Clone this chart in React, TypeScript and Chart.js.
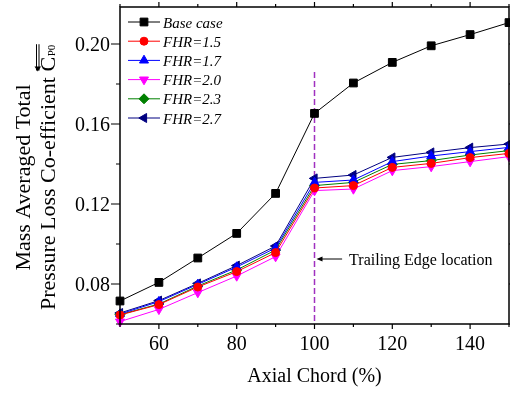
import React, { useEffect, useRef } from "react";
import { Chart, registerables } from "chart.js";
import { drawPoint } from "chart.js/helpers";

Chart.register(...registerables);

// ---------- data ----------
const axialChord = [50, 60, 70, 80, 90, 100, 110, 120, 130, 140, 150];
const baseCase = [0.0715, 0.0808, 0.093, 0.1053, 0.1253, 0.1653, 0.1805, 0.1908, 0.1991, 0.2047, 0.2107];
const fhr15 = [0.0645, 0.0697, 0.0785, 0.0862, 0.0957, 0.128, 0.1292, 0.1383, 0.1403, 0.1432, 0.1453];
const fhr17 = [0.065, 0.0712, 0.0798, 0.0885, 0.098, 0.1308, 0.132, 0.1412, 0.144, 0.1462, 0.1483];
const fhr20 = [0.0612, 0.0673, 0.0757, 0.084, 0.0937, 0.1267, 0.1275, 0.1367, 0.1387, 0.1412, 0.1437];
const fhr23 = [0.0647, 0.07, 0.079, 0.087, 0.097, 0.1292, 0.1308, 0.1398, 0.1417, 0.1445, 0.1467];
const fhr27 = [0.0655, 0.0717, 0.0803, 0.0892, 0.099, 0.1328, 0.1345, 0.1433, 0.1458, 0.1482, 0.15];

const seriesNames = ["Base case", "FHR=1.5", "FHR=1.7", "FHR=2.0", "FHR=2.3", "FHR=2.7"];

const xTickValues = [50, 60, 70, 80, 90, 100, 110, 120, 130, 140, 150];
const xLabelValues = [60, 80, 100, 120, 140];
const yTickValues = [0.06, 0.08, 0.1, 0.12, 0.14, 0.16, 0.18, 0.2];
const yLabelValues = [0.08, 0.12, 0.16, 0.2];

const xTitle = "Axial Chord (%)";
const yTitleLine1 = "Mass Averaged Total";
const yTitleLine2 = "Pressure Loss Co-efficient C";
const yTitleSub = "P0";

const trailingEdgeX = 100;
const trailingEdgeTop = 0.186;
const annotationText = "Trailing Edge location";
const annotationY = 0.0925;
const annotationArrowFromX = 107.1;
const annotationTextX = 108.9;

// ---------- styles ----------
const SERIF = "'Liberation Serif', 'Times New Roman', serif";
const styles = [
  { color: "#000000", pointStyle: "rect", radius: 5.5, rotation: 0 },
  { color: "#ff0000", pointStyle: "circle", radius: 4, rotation: 0 },
  { color: "#0000ff", pointStyle: "triangle", radius: 5.2, rotation: 0 },
  { color: "#ff00ff", pointStyle: "triangle", radius: 5.2, rotation: 180 },
  { color: "#008000", pointStyle: "rectRot", radius: 5, rotation: 0 },
  { color: "#000080", pointStyle: "triangle", radius: 5.2, rotation: -90 },
];
const seriesData = [baseCase, fhr15, fhr17, fhr20, fhr23, fhr27];

const decorPlugin = {
  id: "decor",
  beforeDatasetsDraw(chart: any) {
    const { ctx, scales } = chart;
    const x = scales.x.getPixelForValue(trailingEdgeX);
    ctx.save();
    ctx.strokeStyle = "#a030c0";
    ctx.lineWidth = 1.5;
    ctx.setLineDash([6, 3]);
    ctx.beginPath();
    ctx.moveTo(x, scales.y.getPixelForValue(trailingEdgeTop));
    ctx.lineTo(x, chart.chartArea.bottom);
    ctx.stroke();
    ctx.restore();
  },
  afterDraw(chart: any) {
    const { ctx, scales, chartArea } = chart;
    const { left, right, top, bottom } = chartArea;
    const xs = scales.x;
    const ys = scales.y;
    ctx.save();
    ctx.strokeStyle = "#000";
    ctx.fillStyle = "#000";
    ctx.lineWidth = 1.5;
    ctx.strokeRect(left, top, right - left, bottom - top);

    // x ticks (bottom & top)
    ctx.lineWidth = 1.2;
    xTickValues.forEach((v) => {
      const px = xs.getPixelForValue(v);
      const major = xLabelValues.includes(v);
      const len = major ? 5 : 3;
      ctx.beginPath();
      ctx.moveTo(px, bottom);
      ctx.lineTo(px, bottom + len);
      ctx.moveTo(px, top);
      ctx.lineTo(px, top - len);
      ctx.stroke();
    });
    yTickValues.forEach((v) => {
      const py = ys.getPixelForValue(v);
      const major = yLabelValues.some((l) => Math.abs(l - v) < 1e-9);
      const len = major ? 9 : 4;
      ctx.beginPath();
      ctx.moveTo(left, py);
      ctx.lineTo(left - len, py);
      ctx.moveTo(right, py);
      ctx.lineTo(right + len, py);
      ctx.stroke();
    });

    // tick labels
    ctx.font = `20px ${SERIF}`;
    ctx.textBaseline = "alphabetic";
    ctx.textAlign = "center";
    xLabelValues.forEach((v) => {
      ctx.fillText(String(v), xs.getPixelForValue(v), 349.5);
    });
    ctx.textAlign = "right";
    yLabelValues.forEach((v) => {
      ctx.fillText(v.toFixed(2), 110, ys.getPixelForValue(v) + 6.5);
    });

    // x title
    ctx.textAlign = "center";
    ctx.fillText(xTitle, (left + right) / 2, 382);

    // y title
    ctx.font = `22px ${SERIF}`;
    ctx.save();
    ctx.translate(30, 177.5);
    ctx.rotate(-Math.PI / 2);
    ctx.textAlign = "center";
    ctx.fillText(yTitleLine1, 0, 0);
    ctx.restore();

    ctx.save();
    ctx.translate(54.5, 310);
    ctx.rotate(-Math.PI / 2);
    ctx.textAlign = "left";
    ctx.fillText(yTitleLine2, 0, 0);
    const w = ctx.measureText(yTitleLine2).width;
    const wc = ctx.measureText("C").width;
    ctx.font = `11px ${SERIF}`;
    ctx.fillText(yTitleSub, w + 0.5, 0);
    const ws = ctx.measureText(yTitleSub).width;
    // double over-bar with arrow
    const x0 = w - wc + 1;
    const x1 = w + ws + 1;
    ctx.lineWidth = 1;
    ctx.beginPath();
    ctx.moveTo(x0, -15.5);
    ctx.lineTo(x1, -15.5);
    ctx.moveTo(x0, -18);
    ctx.lineTo(x1, -18);
    ctx.stroke();
    ctx.beginPath();
    ctx.moveTo(x0 - 1, -16.7);
    ctx.lineTo(x0 + 4, -20);
    ctx.lineTo(x0 + 4, -13.5);
    ctx.closePath();
    ctx.fill();
    ctx.restore();

    // annotation
    const ay = ys.getPixelForValue(annotationY);
    const axStart = xs.getPixelForValue(annotationArrowFromX);
    const axEnd = xs.getPixelForValue(trailingEdgeX) + 2;
    ctx.lineWidth = 1;
    ctx.beginPath();
    ctx.moveTo(axStart, ay);
    ctx.lineTo(axEnd + 4, ay);
    ctx.stroke();
    ctx.beginPath();
    ctx.moveTo(axEnd, ay);
    ctx.lineTo(axEnd + 6, ay - 2.5);
    ctx.lineTo(axEnd + 6, ay + 2.5);
    ctx.closePath();
    ctx.fill();
    ctx.font = `16px ${SERIF}`;
    ctx.textAlign = "left";
    ctx.fillText(annotationText, xs.getPixelForValue(annotationTextX), ay + 6);

    // legend
    ctx.font = `italic 15px ${SERIF}`;
    chart.data.datasets.forEach((ds: any, i: number) => {
      const st = styles[i];
      const ly = 22 + i * 19.2;
      ctx.strokeStyle = st.color;
      ctx.fillStyle = st.color;
      ctx.lineWidth = 1;
      ctx.beginPath();
      ctx.moveTo(128, ly);
      ctx.lineTo(160, ly);
      ctx.stroke();
      drawPoint(ctx, { pointStyle: st.pointStyle, radius: st.radius, rotation: st.rotation, borderWidth: 1 } as any, 144, ly);
      ctx.fillStyle = "#000";
      ctx.textAlign = "left";
      ctx.fillText(ds.label, 163, ly + 5.5);
    });
    ctx.restore();
  },
};

export default function App() {
  const ref = useRef<HTMLCanvasElement>(null);
  useEffect(() => {
    if (!ref.current) return;
    const chart = new Chart(ref.current, {
      type: "line",
      data: {
        datasets: seriesData.map((vals, i) => ({
          label: seriesNames[i],
          data: axialChord.map((x, j) => ({ x, y: vals[j] })),
          borderColor: styles[i].color,
          backgroundColor: styles[i].color,
          borderWidth: 1,
          pointStyle: styles[i].pointStyle as any,
          pointRadius: styles[i].radius,
          pointRotation: styles[i].rotation,
          pointBorderWidth: 1,
          pointBorderColor: styles[i].color,
          pointBackgroundColor: styles[i].color,
          tension: 0,
          clip: false as any,
        })),
      },
      options: {
        responsive: false,
        animation: false,
        layout: { autoPadding: false, padding: { left: 120, right: 1, top: 7, bottom: 71 } },
        plugins: { legend: { display: false }, tooltip: { enabled: false } },
        scales: {
          x: { type: "linear", min: 50, max: 150, display: false },
          y: { type: "linear", min: 0.06, max: 0.2185, display: false },
        },
      },
      plugins: [decorPlugin],
    });
    return () => chart.destroy();
  }, []);
  return (
    <div style={{ position: "fixed", left: 0, top: 0, width: 510, height: 395, background: "#fff" }}>
      <canvas ref={ref} width={510} height={395} style={{ display: "block" }} />
    </div>
  );
}
